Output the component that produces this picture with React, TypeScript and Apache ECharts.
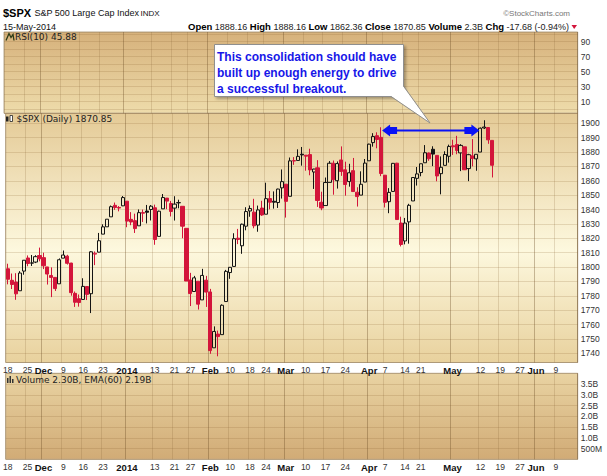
import React, { useEffect, useRef } from "react";
import * as echarts from "echarts";

// ---------------- data ----------------
const priorClose = 1798.18;
const opens = [
  1798.82, 1790.79, 1789.59, 1783.52, 1797.21, 1806.33, 1802.87, 1803.48, 1808.01,
  1806.55, 1800.1, 1794.15, 1792.82, 1788.36, 1806.21, 1807.6, 1802.76, 1781.71, 1777.98,
  1777.48, 1786.47, 1781.46, 1809.0, 1810.39, 1822.92, 1828.02, 1834.96, 1842.97, 1841.47, 1842.61,
  1845.86, 1833.21, 1832.31, 1828.71, 1837.9, 1839.0, 1840.06, 1841.26, 1821.36, 1840.52, 1847.99,
  1844.23, 1841.05, 1844.71, 1842.29, 1826.96, 1791.03, 1783.0, 1790.15, 1777.17, 1790.88,
  1782.68, 1743.82, 1753.38, 1752.99, 1776.01, 1796.2, 1800.45, 1820.12, 1814.82, 1828.46,
  1839.03, 1838.22, 1829.24, 1841.07, 1836.78, 1847.66, 1845.79, 1844.9, 1855.12,
  1857.68, 1849.23, 1874.05, 1874.18, 1878.52, 1877.86, 1878.26, 1866.15, 1869.06, 1845.07,
  1842.81, 1858.92, 1872.25, 1860.09, 1874.53, 1867.67, 1859.48, 1867.09, 1852.11, 1850.07, 1859.16,
  1873.96, 1886.61, 1891.43, 1890.25, 1863.92, 1845.48, 1852.64, 1872.28, 1830.65, 1818.18,
  1831.45, 1846.01, 1861.73, 1865.79, 1872.57, 1879.32, 1881.97, 1877.72, 1865.0, 1870.78, 1877.1,
  1884.39, 1885.3, 1879.45, 1883.69, 1868.53, 1877.39, 1875.27, 1880.03, 1896.75, 1897.13, 1888.16,
];
const highs = [
  1802.33, 1795.51, 1795.73, 1797.16, 1804.84, 1808.1, 1808.42, 1808.27, 1813.55,
  1810.02, 1800.1, 1799.8, 1792.82, 1806.04, 1811.52, 1808.52, 1802.97, 1782.99, 1780.92,
  1792.22, 1786.77, 1811.08, 1810.88, 1823.75, 1829.75, 1833.32, 1842.84, 1844.89, 1842.47, 1849.44,
  1845.86, 1838.24, 1837.16, 1840.1, 1840.02, 1843.23, 1843.15, 1843.45, 1839.26, 1850.84, 1847.99,
  1846.03, 1849.31, 1846.87, 1842.29, 1826.96, 1795.98, 1793.87, 1790.15, 1798.77, 1793.88,
  1784.83, 1758.73, 1755.79, 1774.06, 1798.03, 1799.94, 1823.54, 1826.55, 1830.25, 1841.65,
  1842.87, 1847.5, 1842.79, 1846.13, 1858.71, 1852.91, 1852.65, 1854.53, 1867.92,
  1857.68, 1876.23, 1876.53, 1881.94, 1883.57, 1877.87, 1882.35, 1868.38, 1874.4, 1852.44,
  1862.3, 1873.76, 1874.14, 1873.49, 1883.97, 1873.34, 1871.87, 1875.92, 1855.55, 1866.63, 1875.18,
  1885.84, 1893.17, 1893.8, 1897.28, 1864.04, 1854.95, 1872.43, 1872.53, 1835.07, 1834.19,
  1844.02, 1862.31, 1869.63, 1871.89, 1884.89, 1879.75, 1884.06, 1877.72, 1877.01, 1880.6, 1885.2,
  1888.59, 1891.33, 1885.51, 1883.69, 1878.83, 1889.07, 1878.57, 1897.13, 1902.17, 1897.13, 1888.16,
];
const lows = [
  1788.0, 1784.72, 1777.23, 1783.52, 1794.7, 1800.58, 1800.77, 1802.77, 1803.98,
  1798.6, 1787.85, 1779.09, 1783.38, 1788.36, 1806.21, 1801.75, 1780.09, 1772.28, 1772.45,
  1777.48, 1777.05, 1767.99, 1801.35, 1810.25, 1822.92, 1828.02, 1834.96, 1839.81, 1838.77, 1842.41,
  1827.74, 1829.13, 1823.73, 1828.71, 1831.4, 1830.38, 1832.43, 1815.52, 1821.36, 1840.52, 1840.3,
  1835.23, 1832.38, 1840.88, 1820.06, 1790.29, 1772.88, 1783.0, 1770.45, 1777.17, 1772.26,
  1739.66, 1743.82, 1737.92, 1752.99, 1776.01, 1791.83, 1800.41, 1815.97, 1809.22, 1825.59,
  1835.01, 1826.99, 1824.58, 1835.6, 1836.78, 1840.19, 1840.66, 1841.13, 1847.67,
  1834.44, 1849.23, 1871.11, 1874.18, 1870.56, 1867.04, 1863.88, 1854.38, 1841.86, 1839.57,
  1842.81, 1858.92, 1850.35, 1854.63, 1863.46, 1849.69, 1855.96, 1852.56, 1842.11, 1850.07, 1859.16,
  1873.96, 1883.79, 1882.65, 1863.26, 1841.48, 1837.49, 1852.38, 1833.08, 1814.36, 1815.8,
  1816.29, 1846.01, 1856.72, 1863.18, 1872.57, 1873.91, 1870.24, 1859.7, 1850.61, 1870.78, 1872.69,
  1878.04, 1878.5, 1866.77, 1867.72, 1859.79, 1870.05, 1867.02, 1880.03, 1896.06, 1885.77, 1862.36,
];
const closes = [
  1791.53, 1787.87, 1781.37, 1795.85, 1804.76, 1802.48, 1802.75, 1807.23, 1805.81,
  1800.9, 1795.15, 1792.81, 1785.03, 1805.09, 1808.37, 1802.62, 1782.22, 1775.5, 1775.32,
  1786.54, 1781.0, 1810.65, 1809.6, 1818.32, 1827.99, 1833.32, 1842.02, 1841.4, 1841.07, 1848.36,
  1831.98, 1831.37, 1826.77, 1837.88, 1837.49, 1838.13, 1842.37, 1819.2, 1838.88, 1848.38, 1845.89,
  1838.7, 1843.8, 1844.86, 1828.46, 1790.29, 1781.56, 1792.5, 1774.2, 1794.19, 1782.59,
  1741.89, 1755.2, 1751.64, 1773.43, 1797.02, 1799.84, 1819.75, 1819.26, 1829.83, 1838.63,
  1840.76, 1828.75, 1839.78, 1836.25, 1847.61, 1845.12, 1845.16, 1854.29, 1859.45,
  1845.73, 1873.91, 1873.81, 1877.03, 1878.04, 1877.17, 1867.63, 1868.2, 1846.34, 1841.13,
  1858.83, 1872.25, 1860.77, 1872.01, 1866.52, 1857.44, 1865.62, 1852.56, 1849.04, 1857.62, 1872.34,
  1885.52, 1890.9, 1888.77, 1865.09, 1845.04, 1851.96, 1872.18, 1833.08, 1815.69, 1830.61,
  1842.98, 1862.31, 1864.85, 1871.89, 1879.55, 1875.39, 1878.61, 1863.4, 1869.43, 1878.33, 1883.95,
  1883.68, 1881.14, 1884.66, 1867.72, 1878.21, 1875.63, 1878.48, 1896.65, 1897.45, 1888.53, 1870.85,
];

// calendar of the x axis (trading sessions), tick labels
const calendarStart = "2013-11-18";
const calendarEnd = "2014-06-16";
const marketHolidays = ["2013-11-28", "2013-12-25", "2014-01-01", "2014-01-20", "2014-02-17", "2014-04-18", "2014-05-26"];
const xTickLabels: [string, string][] = [
  ["2013-11-18", "18"], ["2013-11-25", "25"], ["2013-12-02", "Dec"], ["2013-12-09", "9"],
  ["2013-12-16", "16"], ["2013-12-23", "23"], ["2014-01-02", "2014"], ["2014-01-13", "13"],
  ["2014-01-21", "21"], ["2014-01-27", "27"], ["2014-02-03", "Feb"], ["2014-02-10", "10"],
  ["2014-02-18", "18"], ["2014-02-24", "24"], ["2014-03-03", "Mar"], ["2014-03-10", "10"],
  ["2014-03-17", "17"], ["2014-03-24", "24"], ["2014-04-01", "Apr"], ["2014-04-07", "7"],
  ["2014-04-14", "14"], ["2014-04-21", "21"], ["2014-05-01", "May"], ["2014-05-12", "12"],
  ["2014-05-19", "19"], ["2014-05-27", "27"], ["2014-06-02", "Jun"], ["2014-06-09", "9"],
];
const boldTickLabels = ["Dec", "2014", "Feb", "Mar", "Apr", "May", "Jun"];
const rsiTickLabels = [10, 30, 50, 70, 90];

// texts
const headerSymbol = "$SPX";
const headerName = "S&P 500 Large Cap Index";
const headerExchange = "INDX";
const headerCopyright = "\u00A9StockCharts.com";
const headerDate = "15-May-2014";
const quoteFields: [string, string][] = [
  ["Open", "1888.16"], ["High", "1888.16"], ["Low", "1862.36"], ["Close", "1870.85"],
  ["Volume", "2.3B"], ["Chg", "-17.68 (-0.94%)"],
];
const rsiLabel = "RSI(10) 45.88";
const priceLabel = "$SPX (Daily) 1870.85";
const volumeLabel = "Volume 2.30B, EMA(60) 2.19B";
const calloutLines = ["This consolidation should have", "built up enough energy to drive", "a successful breakout."];
const arrowFrom = "2014-04-04";
const arrowTo = "2014-05-12";
const arrowLevel = 1895.7;

// ---------------- layout / style ----------------
const W = 607;
const H = 476;
const PL = 4;
const PR = 577.7;
const RSI_T = 32;
const RSI_B = 113.3;
const PX_T = 113.3;
const PX_B = 362.5;
const VOL_T = 373.3;
const VOL_B = 459.3;
const RED = "#d3153b";
const BLACK = "#141414";
const AXF = '"Liberation Sans", Arial, sans-serif';
const PNF = '"DejaVu Sans", Verdana, sans-serif';

function tradingDays(): string[] {
  const out: string[] = [];
  const d = new Date(calendarStart + "T12:00:00Z");
  const end = new Date(calendarEnd + "T12:00:00Z");
  while (d.getTime() <= end.getTime()) {
    const wd = d.getUTCDay();
    const key = d.toISOString().slice(0, 10);
    if (wd !== 0 && wd !== 6 && !marketHolidays.includes(key)) out.push(key);
    d.setUTCDate(d.getUTCDate() + 1);
  }
  return out;
}

const vGrad = (stops: [number, string][]) =>
  new echarts.graphic.LinearGradient(0, 0, 0, 1, stops.map(([offset, color]) => ({ offset, color })));

export default function App() {
  const ref = useRef<HTMLDivElement>(null);

  useEffect(() => {
    const chart = echarts.init(ref.current!, null, { renderer: "svg" });
    const categories = tradingDays();
    const labelMap = new Map(xTickLabels);
    const monthSet = new Set(xTickLabels.filter(([, t]) => boldTickLabels.includes(t)).map(([k]) => k));
    const weekSet = new Set(xTickLabels.map(([k]) => k).filter((k) => !monthSet.has(k)));

    const candleData = opens.map((o, i) => {
      const c = closes[i];
      const prev = i === 0 ? priorClose : closes[i - 1];
      const col = c < prev ? RED : BLACK;
      const fill = c > o ? "rgba(0,0,0,0)" : col;
      return {
        value: [o, c, lows[i], highs[i]],
        itemStyle: { color: fill, color0: fill, borderColor: col, borderColor0: col, borderWidth: 1 },
      };
    });

    const mkX = (gridIndex: number, labels: boolean, months: boolean) => ({
      type: "category",
      gridIndex,
      data: categories,
      boundaryGap: true,
      axisLine: { show: false },
      axisTick: { show: false },
      axisPointer: { show: false },
      axisLabel: labels
        ? {
            show: true,
            interval: (_i: number, v: string) => labelMap.has(v),
            formatter: (v: string) => {
              const t = labelMap.get(v) || "";
              return boldTickLabels.includes(t) ? `{b|${t}}` : t;
            },
            margin: 3,
            fontSize: 8.5,
            color: "#333",
            fontFamily: AXF,
            rich: { b: { fontWeight: "bold", fontSize: 9.5, color: "#111", fontFamily: AXF } },
          }
        : { show: false },
      splitLine: {
        show: true,
        interval: (_i: number, v: string) => (months ? monthSet.has(v) : weekSet.has(v)),
        lineStyle: { color: months ? "rgba(105,75,35,0.36)" : "rgba(130,95,50,0.2)", width: 1 },
      },
    });

    const yCommon = {
      type: "value",
      position: "right",
      axisLine: { show: false },
      axisTick: { show: false },
      splitLine: { show: true, lineStyle: { color: "rgba(140,100,50,0.2)", width: 1 } },
    };
    const yLabel = { margin: 3, fontSize: 8.5, color: "#333", fontFamily: AXF, showMinLabel: false, showMaxLabel: false };

    chart.setOption({
      animation: false,
      backgroundColor: "#ffffff",
      grid: [
        {
          left: PL, top: RSI_T, width: PR - PL, height: RSI_B - RSI_T, show: true,
          backgroundColor: vGrad([[0, "#d6b17b"], [1, "#eedcab"]]), borderColor: "#b7a78a", borderWidth: 1,
        },
        {
          left: PL, top: PX_T, width: PR - PL, height: PX_B - PX_T, show: true,
          backgroundColor: vGrad([[0, "#e4ca96"], [0.55, "#fdf8de"], [1, "#e8d19d"]]), borderColor: "#b7a78a", borderWidth: 1,
        },
        {
          left: PL, top: VOL_T, width: PR - PL, height: VOL_B - VOL_T, show: true,
          backgroundColor: vGrad([[0, "#e9d3a2"], [1, "#d1ab76"]]), borderColor: "#b7a78a", borderWidth: 1,
        },
      ],
      xAxis: [mkX(0, false, false), mkX(1, true, false), mkX(2, true, false), mkX(0, false, true), mkX(1, false, true), mkX(2, false, true)],
      yAxis: [
        {
          ...yCommon, gridIndex: 0, min: -5.7, max: 102.7, splitNumber: 11,
          axisLabel: {
            ...yLabel,
            formatter: (v: number) => (rsiTickLabels.some((t) => Math.abs(t - v) < 1e-6) ? String(Math.round(v)) : ""),
          },
        },
        {
          ...yCommon, gridIndex: 1, min: 1733.6, max: 1907, splitNumber: 17,
          axisLabel: { ...yLabel, formatter: (v: number) => (Math.abs(v / 10 - Math.round(v / 10)) < 1e-6 ? String(Math.round(v)) : "") },
        },
        {
          ...yCommon, gridIndex: 2, min: 0, max: 4e9, interval: 5e8,
          axisLabel: {
            ...yLabel,
            formatter: (v: number) => (v <= 0 || v >= 4e9 ? "" : v < 1e9 ? `${Math.round(v / 1e6)}M` : `${(v / 1e9).toFixed(1)}B`),
          },
        },
      ],
      series: [
        { type: "line", xAxisIndex: 0, yAxisIndex: 0, data: [], silent: true },
        {
          type: "candlestick",
          xAxisIndex: 1,
          yAxisIndex: 1,
          data: candleData,
          barWidth: 3.6,
          clip: true,
          silent: true,
        },
        { type: "bar", xAxisIndex: 2, yAxisIndex: 2, data: [], silent: true },
      ],
    });

    // annotation anchored to the price scale
    const a = chart.convertToPixel({ xAxisIndex: 1, yAxisIndex: 1 }, [arrowFrom, arrowLevel]) as number[];
    const b = chart.convertToPixel({ xAxisIndex: 1, yAxisIndex: 1 }, [arrowTo, arrowLevel]) as number[];
    const ay = Math.round(a[1]) + 0.5;
    const x0 = a[0] + 1;
    const x1 = b[0] - 1;
    const BLUE = "#0a12f5";
    const leftHead = [[x0, ay], [x0 + 8, ay - 6], [x0 + 8, ay - 3.5], [x0 + 15, ay - 3.5], [x0 + 15, ay + 3.5], [x0 + 8, ay + 3.5], [x0 + 8, ay + 6]];
    const rightHead = [[x1, ay], [x1 - 8, ay - 6], [x1 - 8, ay - 3.5], [x1 - 15, ay - 3.5], [x1 - 15, ay + 3.5], [x1 - 8, ay + 3.5], [x1 - 8, ay + 6]];

    const qText = quoteFields.map(([k, v]) => `{b|${k}} ${v}`).join(" ");

    const icon = (x: number, y: number, kind: string) => {
      if (kind === "vol")
        return [
          { type: "rect", shape: { x, y: y + 3, width: 1.5, height: 5 }, style: { fill: "#333" } },
          { type: "rect", shape: { x: x + 2.5, y: y + 1, width: 1.5, height: 7 }, style: { fill: "#333" } },
          { type: "rect", shape: { x: x + 5, y: y + 4, width: 1.5, height: 4 }, style: { fill: "#333" } },
        ];
      if (kind === "rsi")
        return [
          { type: "polyline", shape: { points: [[x, y + 8], [x + 3, y + 1], [x + 5, y + 5], [x + 7, y + 2], [x + 8, y + 8]] }, style: { stroke: "#2b3a16", lineWidth: 1.3, fill: "none" } },
        ];
      return [
        { type: "rect", shape: { x, y: y + 2, width: 2.5, height: 5 }, style: { fill: "#222" } },
        { type: "rect", shape: { x: x + 4, y: y + 1, width: 2.5, height: 6 }, style: { fill: "#fff", stroke: "#222", lineWidth: 0.8 } },
      ];
    };

    const txt = (x: number, y: number, text: string, extra: any = {}) => ({
      type: "text",
      x,
      y,
      silent: true,
      style: { text, fontSize: 9, fontFamily: PNF, fill: "#222", verticalAlign: "middle", ...extra },
    });

    chart.setOption({
      graphic: [
        // header
        txt(3, 13, headerSymbol, { fontSize: 11, fontWeight: "bold", fontFamily: AXF, fill: "#000" }),
        txt(34.5, 13, headerName, { fontSize: 9, fontFamily: AXF, fill: "#111" }),
        txt(140.5, 13.5, headerExchange, { fontSize: 8, fontFamily: AXF, fill: "#111" }),
        txt(570, 13, headerCopyright, { fontSize: 8, fontFamily: AXF, fill: "#777", align: "right" }),
        txt(3, 26.5, headerDate, { fontSize: 9, fontFamily: AXF, fill: "#111" }),
        {
          type: "text",
          x: 569,
          y: 26.5,
          silent: true,
          style: {
            text: qText,
            align: "right",
            verticalAlign: "middle",
            fontSize: 9,
            fontFamily: AXF,
            fill: "#222",
            rich: { b: { fontWeight: "bold", fontSize: 9.5, fontFamily: AXF, fill: "#000" } },
          },
        },
        { type: "polygon", silent: true, shape: { points: [[571.5, 25], [577, 25], [574.2, 29]] }, style: { fill: RED } },
        // panel captions
        ...icon(6, 32.5, "rsi"),
        txt(15, 36.8, rsiLabel),
        ...icon(6, 114.5, "px"),
        txt(16.5, 119.2, priceLabel),
        ...icon(7, 375, "vol"),
        txt(16, 379.5, volumeLabel),
        // callout
        {
          type: "rect",
          silent: true,
          shape: { x: 214.5, y: 44.5, width: 189, height: 52 },
          style: { fill: "#ffffff", stroke: "#8f8f8f", lineWidth: 1, shadowBlur: 3, shadowOffsetX: 2, shadowOffsetY: 2, shadowColor: "rgba(0,0,0,0.3)" },
          z: 50,
        },
        {
          type: "polygon",
          silent: true,
          shape: { points: [[391, 96], [403, 86], [430, 123]] },
          style: { fill: "#ffffff" },
          z: 51,
        },
        {
          type: "polyline",
          silent: true,
          shape: { points: [[391, 96.5], [430, 123], [403.5, 86]] },
          style: { stroke: "#8f8f8f", lineWidth: 1, fill: "none" },
          z: 52,
        },
        {
          type: "text",
          x: 217,
          y: 49,
          silent: true,
          z: 53,
          style: {
            text: calloutLines.join("\n"),
            fontSize: 12,
            fontWeight: "bold",
            fontFamily: AXF,
            fill: "#1717e8",
            lineHeight: 16,
            verticalAlign: "top",
          },
        },
        // blue range arrow
        { type: "line", silent: true, shape: { x1: x0 + 14, y1: ay, x2: x1 - 14, y2: ay }, style: { stroke: BLUE, lineWidth: 2 }, z: 40 },
        { type: "polygon", silent: true, shape: { points: leftHead }, style: { fill: BLUE }, z: 40 },
        { type: "polygon", silent: true, shape: { points: rightHead }, style: { fill: BLUE }, z: 40 },
      ],
    });

    return () => chart.dispose();
  }, []);

  return <div ref={ref} style={{ position: "fixed", left: 0, top: 0, width: W, height: H, background: "#fff" }} />;
}
